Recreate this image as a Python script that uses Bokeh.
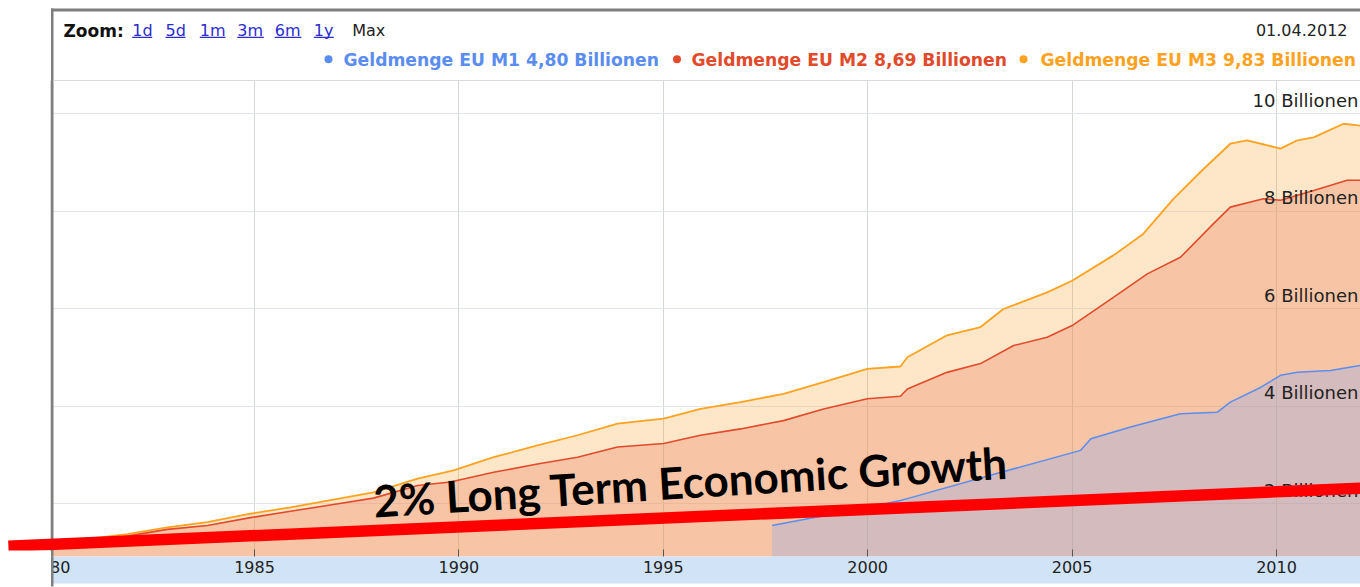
from bokeh.plotting import figure
from bokeh.models import Range1d, LinearAxis, FixedTicker, Grid, BoxAnnotation, Label
from bokeh.embed import file_html
from bokeh.resources import INLINE
from bokeh.core.properties import value

# ---------------- data (Billionen EUR) ----------------
m3_years = [1980.0, 1981.89, 1982.87, 1983.85, 1984.90, 1985.88, 1986.93, 1987.91, 1988.99, 1989.87,
            1990.85, 1991.92, 1992.90, 1993.88, 1995.01, 1995.91, 1996.89, 1997.94, 1998.92, 1999.99,
            2000.80, 2000.97, 2001.94, 2002.76, 2003.32, 2004.39, 2005.00, 2006.01, 2006.74, 2007.48,
            2008.14, 2008.87, 2009.28, 2010.10, 2010.51, 2010.91, 2011.64, 2012.05, 2012.25]
m3_values = [1.18, 1.37, 1.51, 1.62, 1.79, 1.92, 2.08, 2.23, 2.51, 2.68,
             2.95, 3.19, 3.40, 3.64, 3.74, 3.94, 4.08, 4.25, 4.49, 4.76,
             4.81, 5.00, 5.45, 5.62, 5.99, 6.33, 6.57, 7.09, 7.53, 8.25,
             8.80, 9.38, 9.45, 9.28, 9.45, 9.51, 9.79, 9.75, 9.83]

m2_years = [1980.0, 1981.89, 1982.87, 1983.85, 1984.90, 1985.88, 1986.93, 1987.91, 1988.99, 1989.79,
            1990.85, 1991.92, 1992.90, 1993.88, 1995.01, 1995.91, 1996.89, 1997.94, 1998.92, 1999.99,
            2000.80, 2000.97, 2001.94, 2002.76, 2003.57, 2004.39, 2005.00, 2006.01, 2006.84, 2007.65,
            2008.46, 2008.87, 2009.68, 2010.10, 2010.91, 2011.73, 2012.05, 2012.25]
m2_values = [1.12, 1.33, 1.47, 1.55, 1.71, 1.84, 1.98, 2.11, 2.37, 2.44,
             2.64, 2.81, 2.95, 3.16, 3.23, 3.40, 3.53, 3.70, 3.94, 4.15,
             4.20, 4.35, 4.69, 4.87, 5.24, 5.41, 5.65, 6.23, 6.71, 7.05,
             7.74, 8.08, 8.25, 8.22, 8.42, 8.63, 8.63, 8.69]

m1_years = [1997.66, 1999.99, 2000.80, 2000.97, 2003.09, 2005.21, 2005.46, 2006.43, 2007.65,
            2008.55, 2008.87, 2009.61, 2010.10, 2010.51, 2011.32, 2012.05, 2012.25]
m1_values = [1.55, 1.92, 2.06, 2.10, 2.60, 3.09, 3.33, 3.57, 3.84,
             3.87, 4.08, 4.38, 4.63, 4.69, 4.73, 4.83, 4.80]

x_ticks = [1980, 1985, 1990, 1995, 2000, 2005, 2010]
y_ticks = [2, 4, 6, 8, 10]
y_tick_labels = ["2 Billionen", "4 Billionen", "6 Billionen", "8 Billionen", "10 Billionen"]

legend_labels = ["Geldmenge EU M1 4,80 Billionen",
                 "Geldmenge EU M2 8,69 Billionen",
                 "Geldmenge EU M3 9,83 Billionen"]
zoom_buttons = ["1d", "5d", "1m", "3m", "6m", "1y"]
date_text = "01.04.2012"

growth_years = [1978.98, 2012.06]
growth_values = [1.124, 2.314]
growth_text = "2% Long Term Economic Growth"

# ---------------- styles ----------------
C_M1, C_M2, C_M3 = "#5a8def", "#e14a2a", "#ffa21f"
FILL_M1, FILL_M2, FILL_M3 = "#82a7f8", "#ec8664", "#f79f23"

# ---------------- pixel <-> data helpers (page pixels) ----------------
PX_PER_YEAR = 40.88
X_1980 = 49.6
PX_PER_UNIT = 48.75
Y_ZERO = 600.5


def X(px):
    return 1980 + (px - X_1980) / PX_PER_YEAR


def Y(py):
    return (Y_ZERO - py) / PX_PER_UNIT


W, H = 1360, 587
p = figure(width=W, height=H, x_range=Range1d(X(0), X(1360)), y_range=Range1d(Y(587), Y(0)),
           min_border=0, x_axis_location=None, y_axis_location=None,
           toolbar_location=None, output_backend="svg", outline_line_color=None,
           background_fill_color="white", border_fill_color="white")
p.center = []

plot_bottom = Y(556)
plot_top = Y(80)

# grids
p.add_layout(Grid(dimension=0, ticker=FixedTicker(ticks=x_ticks), bounds=(X(53), X(1360)),
                  cross_bounds=(plot_bottom, plot_top), grid_line_color="#d2dad2", grid_line_width=1), "center")
p.add_layout(Grid(dimension=1, ticker=FixedTicker(ticks=y_ticks), cross_bounds=(X(53), X(1360)),
                  grid_line_color="#e4e4f1", grid_line_width=1), "center")

# areas + lines
p.varea(x=m3_years, y1=plot_bottom, y2=m3_values, fill_color=FILL_M3, fill_alpha=0.25)
p.line(m3_years, m3_values, line_color=C_M3, line_width=1.8)
p.varea(x=m2_years, y1=plot_bottom, y2=m2_values, fill_color=FILL_M2, fill_alpha=0.35)
p.line(m2_years, m2_values, line_color=C_M2, line_width=1.6)
p.varea(x=m1_years, y1=plot_bottom, y2=m1_values, fill_color=FILL_M1, fill_alpha=0.3)
p.line(m1_years, m1_values, line_color=C_M1, line_width=1.5)

# x-axis band
p.quad(left=X(52), right=X(1360), bottom=Y(583), top=plot_bottom, fill_color="#d1e3f6", line_color=None)

# frame borders
p.quad(left=X(50.5), right=X(53), bottom=plot_bottom, top=Y(8), fill_color="#7f7f7f", line_color=None)
p.quad(left=X(50.5), right=X(1360), bottom=Y(11), top=Y(8), fill_color="#7f7f7f", line_color=None)
p.segment(x0=[X(53)], y0=[plot_top], x1=[X(1360)], y1=[plot_top], line_color="#dadada", line_width=1)

# y tick labels (inside, right)
p.text(x=[X(1360)] * len(y_ticks), y=y_ticks, text=y_tick_labels, text_align="right",
       text_baseline="middle", x_offset=-2, y_offset=-13.5, text_font=value("DejaVu Sans"),
       text_font_size="18px", text_color="#222222")

# long term growth line + text
p.line(growth_years, growth_values, line_color="#ff0000", line_width=11.5)
p.text(x=[X(373)], y=[Y(500)], text=[growth_text], angle=0.061, text_align="left",
       text_baseline="middle", text_font=value("Lato"), text_font_style="bold",
       text_font_size="44px", text_color="#000000")

# x axis inside the frame on the band
xaxis = LinearAxis(fixed_location=plot_bottom, ticker=FixedTicker(ticks=x_ticks),
                   axis_line_color=None, major_tick_in=7, major_tick_out=0,
                   major_tick_line_color="#555555", minor_tick_line_color=None,
                   major_label_standoff=4, major_label_text_font="DejaVu Sans",
                   major_label_text_font_size="16px", major_label_text_color="#222222")
p.add_layout(xaxis, "below")

# white area left of the chart frame (clips the 1980 label) and lower border
p.add_layout(BoxAnnotation(left=None, right=X(50.5), top=Y(550), bottom=None,
                           fill_color="white", fill_alpha=1, line_color=None))
p.add_layout(BoxAnnotation(left=X(50.5), right=X(53), top=plot_bottom, bottom=Y(586),
                           fill_color="#7f7f7f", fill_alpha=1, line_color=None))

# header: zoom buttons
p.add_layout(Label(x=X(63), y=Y(30), text="Zoom:", text_font="DejaVu Sans", text_font_style="bold",
                   text_font_size="17px", text_color="#111111", text_baseline="middle"))
link_x = [131.7, 165, 199.3, 236.7, 274.3, 313.3]
link_w = [20, 20, 25.7, 26.6, 26.7, 20]
for lx, lw, t in zip(link_x, link_w, zoom_buttons):
    p.add_layout(Label(x=X(lx), y=Y(30), text=t, text_font="DejaVu Sans", text_font_size="16px",
                       text_color="#2b2bd0", text_baseline="middle"))
p.segment(x0=[X(a) for a in link_x], y0=[Y(36.8)] * len(link_x),
          x1=[X(a + w) for a, w in zip(link_x, link_w)], y1=[Y(36.8)] * len(link_x),
          line_color="#2b2bd0", line_width=1.2)
p.add_layout(Label(x=X(351.7), y=Y(30), text="Max", text_font="DejaVu Sans", text_font_size="16px",
                   text_color="#222222", text_baseline="middle"))

# header: date
p.add_layout(Label(x=X(1347), y=Y(29.5), text=date_text, text_font="DejaVu Sans", text_font_size="16px",
                   text_color="#222222", text_align="right", text_baseline="middle"))

# header: legend
dot_x = [328, 676.5, 1023]
txt_x = [343, 691, 1040]
cols = [C_M1, C_M2, C_M3]
p.scatter(x=[X(a) for a in dot_x], y=[Y(58.8)] * 3, size=8, fill_color=cols, line_color=None)
for tx, t, c in zip(txt_x, legend_labels, cols):
    p.add_layout(Label(x=X(tx), y=Y(59.3), text=t, text_font="DejaVu Sans", text_font_style="bold",
                       text_font_size="17.2px", text_color=c, text_baseline="middle"))

open("out.html", "w").write(file_html(p, INLINE))
